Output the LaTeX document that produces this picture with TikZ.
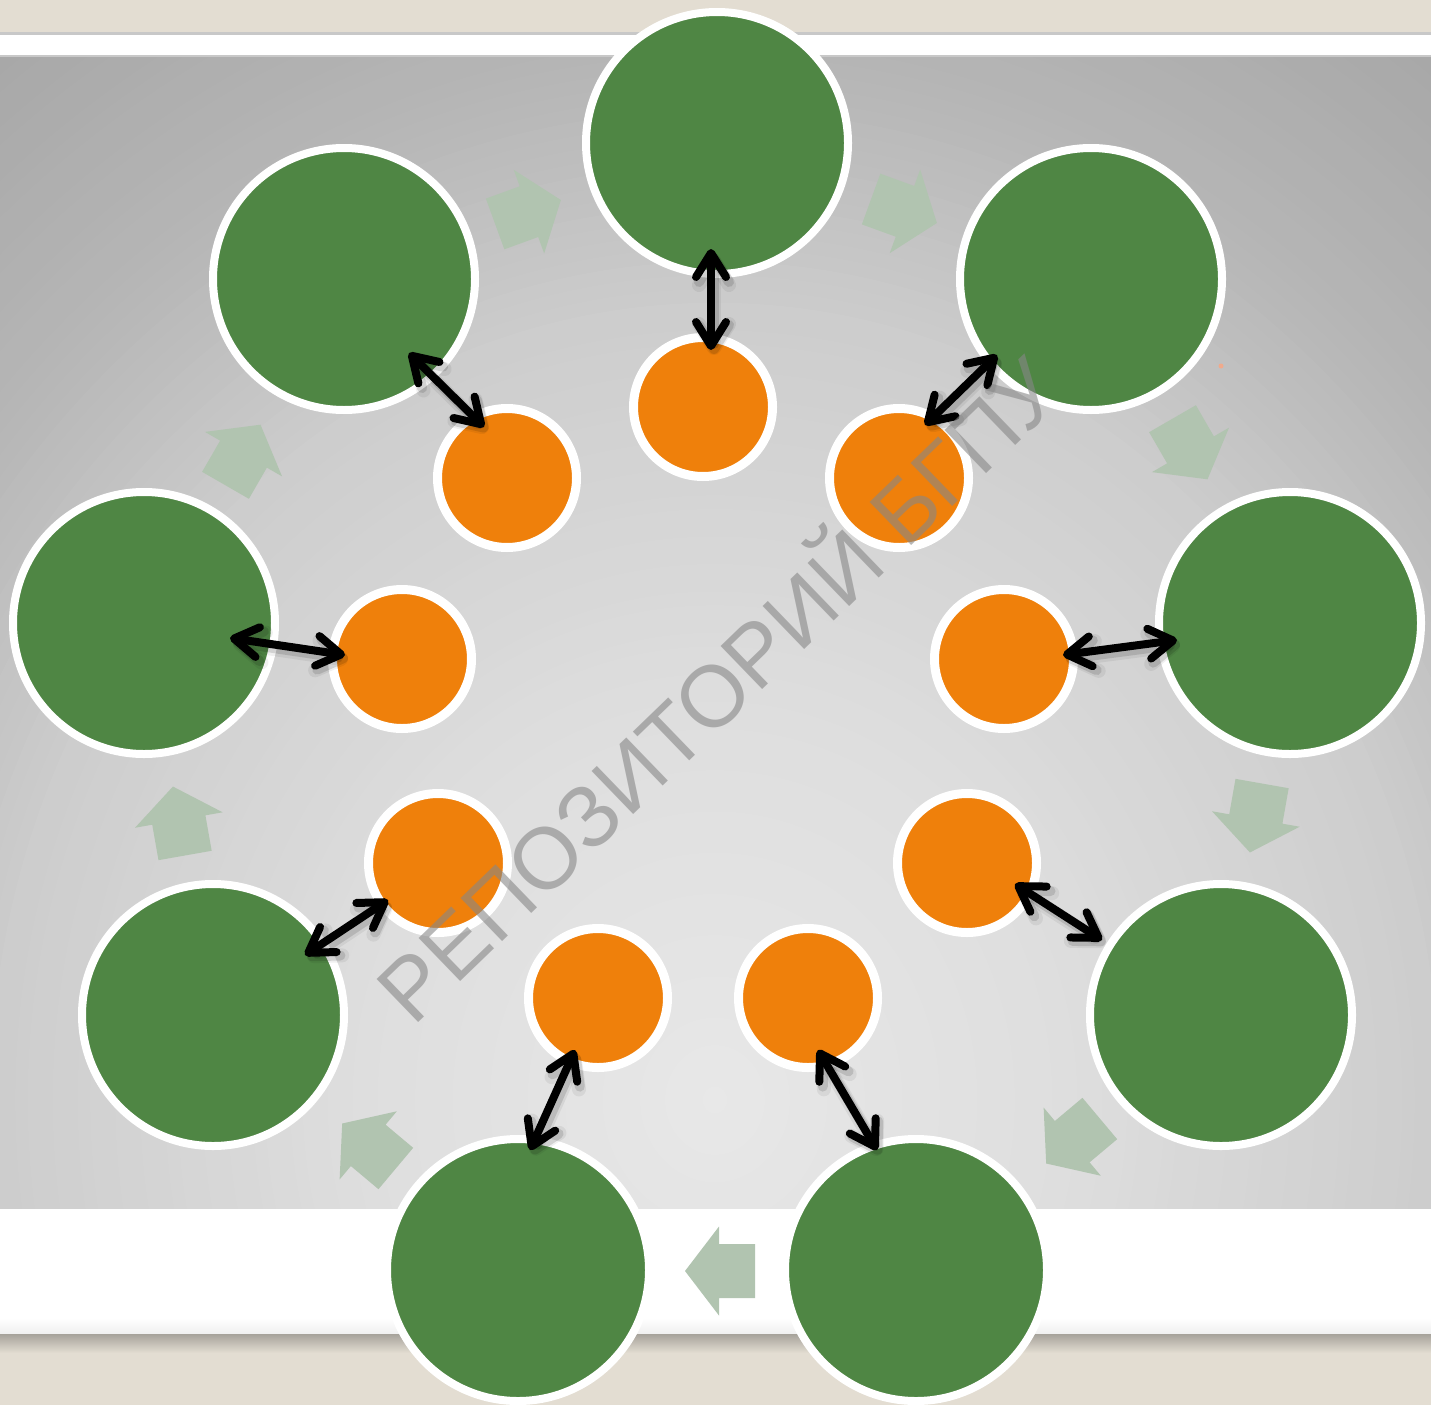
\documentclass[tikz,border=0pt]{standalone}
\usepackage{fontspec}
\usetikzlibrary{arrows.meta,calc}
\newfontfamily\wmfont{Liberation Sans}
\definecolor{beige}{RGB}{227,221,210}
\definecolor{rule}{RGB}{200,200,200}
\definecolor{leaf}{RGB}{79,134,68}
\definecolor{amber}{RGB}{239,128,11}
\definecolor{sage}{RGB}{177,196,176}
\definecolor{wmgray}{RGB}{135,135,135}
\definecolor{shadowdark}{RGB}{167,163,155}
\definecolor{dotc}{RGB}{240,170,140}
\definecolor{panelbase}{RGB}{165,165,165}
\newcommand\sagearrow[3]{%
  \begin{scope}[shift={(#1,#2)},rotate=#3]
    \fill[sage] (35,0) -- (1,44.5) -- (1,27) -- (-35,27) -- (-35,-27) -- (1,-27) -- (1,-44.5) -- cycle;
  \end{scope}}
\newcommand\linkpair[4]{%
  \draw[dblshadow,line width=14pt,opacity=0.06] ($(#1)+#2+(3,5)$) -- ($(#3)+#4+(3,5)$);
  \draw[dblshadow,line width=10pt,opacity=0.12] ($(#1)+#2+(3,4)$) -- ($(#3)+#4+(3,4)$);
  \draw[dbl] ($(#1)+#2$) -- ($(#3)+#4$);}
\begin{document}
\begin{tikzpicture}[x=1pt,y=-1pt,
  gc/.style={circle,fill=leaf,draw=white,line width=8pt,minimum size=262pt,inner sep=0pt},
  oc/.style={circle,fill=amber,draw=white,line width=9pt,minimum size=139pt,inner sep=0pt},
  dbl/.style={black,line width=8pt,line cap=round,line join=round,
    {Straight Barb[length=24pt,width=30pt,line cap=round,line join=round]}-{Straight Barb[length=24pt,width=30pt,line cap=round,line join=round]}},
  dblshadow/.style={black,line cap=round,line join=round,
    {Straight Barb[length=24pt,width=30pt,line cap=round,line join=round]}-{Straight Barb[length=24pt,width=30pt,line cap=round,line join=round]}}]
\useasboundingbox (0,0) rectangle (1431,1405);
% background bands
\fill[beige] (0,0) rectangle (1431,1405);
\fill[white] (0,34) rectangle (1431,1333);
\fill[rule] (0,32.5) rectangle (1431,35);
\begin{scope}
  \clip (0,56) rectangle (1431,1208);
  \fill[panelbase] (0,56) rectangle (1431,1208);
  \foreach \i in {100,...,1}{
    \pgfmathsetmacro\dd{\i*0.0125}
    \pgfmathsetmacro\gv{\dd<0.36 ? 232-27.8*\dd : (\dd<0.72 ? 222-47.2*(\dd-0.36) : (\dd<0.945 ? 205-102*(\dd-0.72) : (\dd<1.19 ? 182-57*(\dd-0.945) : 168-50*(\dd-1.19))))}
    \pgfmathsetmacro\gg{\gv/255}
    \pgfmathsetmacro\rx{\dd*1000}
    \pgfmathsetmacro\ry{\dd*1100}
    \definecolor{bgc}{gray}{\gg}
    \fill[bgc] (715,1100) ellipse [x radius=\rx pt, y radius=\ry pt];
  }
\end{scope}
\fill[rule] (0,55.5) rectangle (1431,57.5);
\shade[top color=white,bottom color=black!6] (0,1318) rectangle (1431,1334);
\shade[top color=shadowdark,bottom color=beige] (0,1334) rectangle (1431,1353);
% cycle block arrows
\sagearrow{528}{212}{20}
\sagearrow{904}{211}{-20}
\sagearrow{1190}{449}{-60}
\sagearrow{1256}{818}{-100}
\sagearrow{1073}{1141}{-140}
\sagearrow{720}{1271}{180}
\sagearrow{369}{1146}{140}
\sagearrow{179}{821}{100}
\sagearrow{243}{455}{60}
% green circles
\node[gc] (g1) at (717,143) {};
\node[gc] (g2) at (1091,279) {};
\node[gc] (g3) at (1290,623) {};
\node[gc] (g4) at (1221,1015) {};
\node[gc] (g5) at (916,1270) {};
\node[gc] (g6) at (518,1270) {};
\node[gc] (g7) at (213,1015) {};
\node[gc] (g8) at (144,623) {};
\node[gc] (g9) at (344,279) {};
% orange circles
\node[oc] (o1) at (703,407) {};
\node[oc] (o2) at (899,478) {};
\node[oc] (o3) at (1004,659) {};
\node[oc] (o4) at (967,863) {};
\node[oc] (o5) at (808,998) {};
\node[oc] (o6) at (598,998) {};
\node[oc] (o7) at (438,863) {};
\node[oc] (o8) at (402,659) {};
\node[oc] (o9) at (507,478) {};
% double arrows
\linkpair{g1}{(-6,106)}{o1}{(8,-57)}
\linkpair{g2}{(-94,76)}{o2}{(26,-53)}
\linkpair{g3}{(-113,17)}{o3}{(59,-4)}
\linkpair{o4}{(48,21)}{g4}{(-119,-75)}
\linkpair{o5}{(10,52)}{g5}{(-39,-120)}
\linkpair{o6}{(-23,52)}{g6}{(12,-120)}
\linkpair{o7}{(-50,37)}{g7}{(92,-60)}
\linkpair{g8}{(86,15)}{o8}{(-57,-4)}
\linkpair{g9}{(65,74)}{o9}{(-23,-51)}
% tiny dot
\fill[dotc] (1221,366) circle [radius=2.5pt];
% watermark
\node[rotate=44,anchor=base,text=wmgray,opacity=0.6,inner sep=0pt,
  font=\wmfont\fontsize{87}{87}\selectfont] (wm) at (740,712) {РЕПОЗИТОРИЙ БГПУ};
\end{tikzpicture}
\end{document}
